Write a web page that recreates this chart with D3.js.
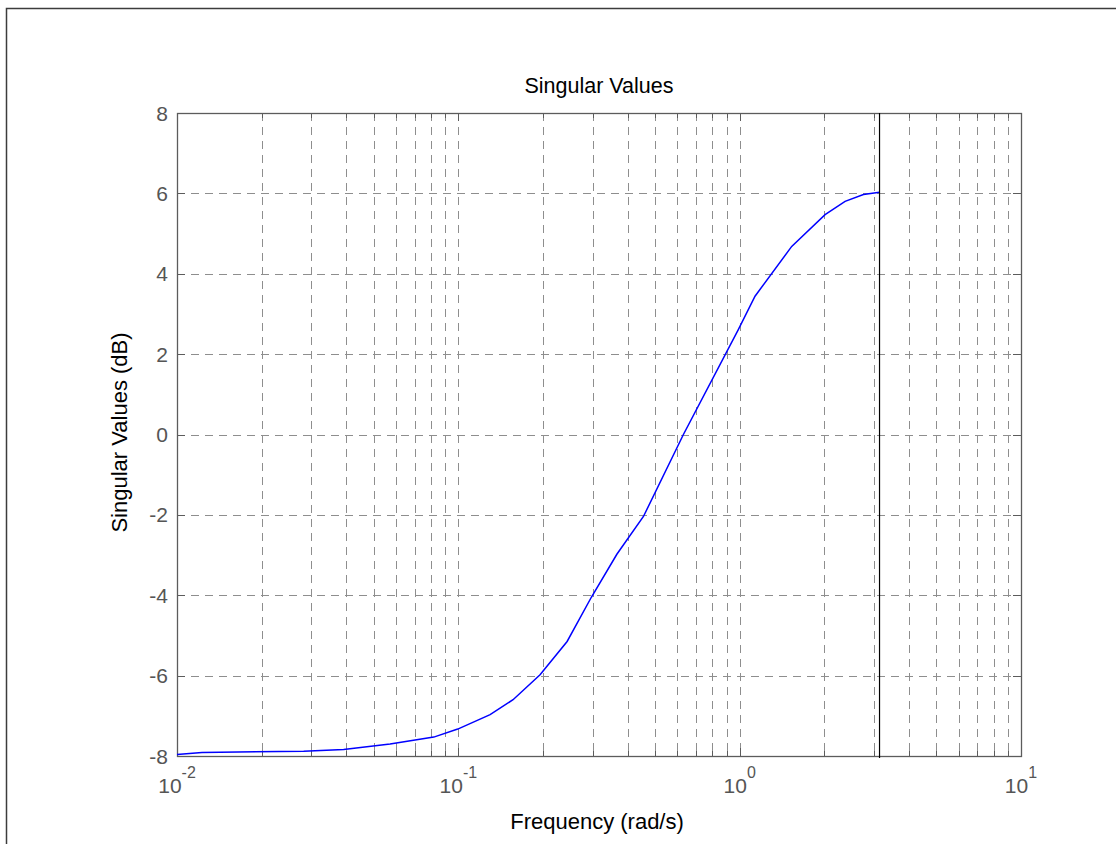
<!DOCTYPE html>
<html>
<head>
<meta charset="utf-8">
<script src="https://cdn.jsdelivr.net/npm/d3@7"></script>
<style>
  body { margin: 0; background: #fff; }
  svg { display: block; }
  text { font-family: Arial, "Liberation Sans", sans-serif; }
</style>
</head>
<body>
<div id="chart"></div>
<script>
// frequency samples (rad/s) and singular values (dB)
const freq = [0.01, 0.01227, 0.0282, 0.0391, 0.0572, 0.0818, 0.0995, 0.1297, 0.1565, 0.1952,
              0.2436, 0.297, 0.366, 0.455, 0.631, 0.989, 1.134, 1.531, 2.012, 2.37, 2.754, 3.1416];
const sv = [-7.96, -7.91, -7.88, -7.84, -7.70, -7.53, -7.33, -6.97, -6.60, -5.98,
            -5.15, -4.05, -2.98, -2.04, 0.0, 2.61, 3.44, 4.68, 5.47, 5.80, 5.97, 6.03];
const nyquist = 3.1416; // vertical marker
const yTicks = [-8, -6, -4, -2, 0, 2, 4, 6, 8];
const xDecades = [0.01, 0.1, 1, 10];
const xExponents = ["-2", "-1", "0", "1"];

const W = 1116, H = 844;
const margin = { top: 113, right: 95, bottom: 88, left: 177 };
const width = W - margin.left - margin.right;
const height = H - margin.top - margin.bottom;

const svgRoot = d3.select("#chart").append("svg")
  .attr("width", W).attr("height", H);

// figure frame (runs off the window on right/bottom)
svgRoot.append("rect")
  .attr("x", 6.5).attr("y", 8.5)
  .attr("width", 1200).attr("height", 900)
  .attr("fill", "none").attr("stroke", "#3c3c3c").attr("stroke-width", 1.5);

const svg = svgRoot.append("g")
  .attr("transform", `translate(${margin.left},${margin.top})`);

const x = d3.scaleLog().domain([0.01, 10]).range([0, width]);
const y = d3.scaleLinear().domain([-8, 8]).range([height, 0]);

const gridColor = "#8e8e8e";
const axisColor = "#5c5c5c";

// grid
const xGrid = x.ticks().filter(t => t > 0.01 && t < 10);
svg.append("g").selectAll("line").data(xGrid).join("line")
  .attr("x1", d => Math.round(x(d)) + 0.5).attr("x2", d => Math.round(x(d)) + 0.5)
  .attr("y1", 0).attr("y2", height)
  .attr("stroke", gridColor).attr("stroke-dasharray", "8,6");

svg.append("g").selectAll("line").data(yTicks.slice(1, -1)).join("line")
  .attr("x1", 0).attr("x2", width)
  .attr("y1", d => Math.round(y(d)) + 0.5).attr("y2", d => Math.round(y(d)) + 0.5)
  .attr("stroke", gridColor).attr("stroke-dasharray", "8,6");

// tick marks on all four sides
const isMajor = d => xDecades.some(v => Math.abs(v - d) < 1e-9);
const tk = svg.append("g").attr("stroke", axisColor);
xGrid.forEach(d => {
  const len = isMajor(d) ? 8 : 5;
  const px = Math.round(x(d)) + 0.5;
  tk.append("line").attr("x1", px).attr("x2", px).attr("y1", height).attr("y2", height - len);
  tk.append("line").attr("x1", px).attr("x2", px).attr("y1", 0).attr("y2", len);
});
yTicks.forEach(d => {
  const py = Math.round(y(d)) + 0.5;
  tk.append("line").attr("x1", 0).attr("x2", 8).attr("y1", py).attr("y2", py);
  tk.append("line").attr("x1", width).attr("x2", width - 8).attr("y1", py).attr("y2", py);
});

// axes box
svg.append("rect")
  .attr("x", 0.5).attr("y", 0.5).attr("width", width).attr("height", height)
  .attr("fill", "none").attr("stroke", axisColor).attr("stroke-width", 1.3);

// y tick labels
svg.append("g").selectAll("text").data(yTicks).join("text")
  .attr("x", -9).attr("y", d => y(d) + 7.5)
  .attr("text-anchor", "end")
  .attr("fill", "#555")
  .style("font-size", "21px")
  .text(d => d);

// x tick labels 10^n
const xl = svg.append("g").selectAll("text").data(xDecades).join("text")
  .attr("x", d => x(d)).attr("y", height + 37)
  .attr("text-anchor", "middle")
  .attr("fill", "#555")
  .style("font-size", "21px");
xl.append("tspan").text("10");
xl.append("tspan").attr("dy", -15).style("font-size", "16px").text((d, i) => xExponents[i]);

// data line
const line = d3.line().x((d, i) => x(freq[i])).y(d => y(d));
svg.append("path")
  .datum(sv)
  .attr("fill", "none")
  .attr("stroke", "#0000ff")
  .attr("stroke-width", 1.5)
  .attr("d", line);

// vertical marker at pi
svg.append("line")
  .attr("x1", x(nyquist)).attr("x2", x(nyquist))
  .attr("y1", 0).attr("y2", height + 2)
  .attr("stroke", "#000").attr("stroke-width", 1.2);

// title and labels
svg.append("text")
  .attr("x", width / 2).attr("y", -20)
  .attr("text-anchor", "middle").attr("fill", "#000")
  .style("font-size", "21.5px")
  .text("Singular Values");

svg.append("text")
  .attr("x", width / 2 - 2).attr("y", height + 73)
  .attr("text-anchor", "middle").attr("fill", "#000")
  .style("font-size", "22px")
  .text("Frequency (rad/s)");

svg.append("text")
  .attr("transform", `translate(${127 - margin.left},${height / 2 - 2}) rotate(-90)`)
  .attr("text-anchor", "middle").attr("fill", "#000")
  .style("font-size", "22px")
  .text("Singular Values (dB)");
</script>
</body>
</html>
